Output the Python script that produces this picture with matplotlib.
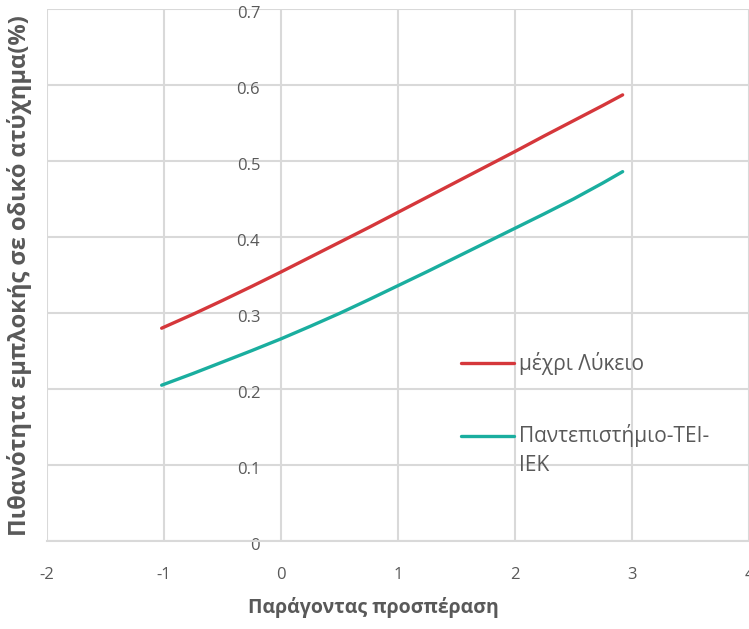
import matplotlib
matplotlib.use("Agg")
import matplotlib.pyplot as plt
import matplotlib.transforms as mtransforms

# values
x_vals = [-1.02, -0.75, -0.5, -0.25, 0.0, 0.25, 0.5, 0.75, 1.0, 1.25, 1.5, 1.75, 2.0, 2.25, 2.5, 2.75, 2.92]
lykeio = [0.280, 0.2985, 0.3165, 0.335, 0.354, 0.3735, 0.393, 0.4125, 0.4325, 0.4525,
          0.4725, 0.4925, 0.5125, 0.533, 0.553, 0.573, 0.587]
panep = [0.205, 0.2205, 0.2355, 0.2505, 0.266, 0.2825, 0.2995, 0.3175, 0.336, 0.3545,
         0.3735, 0.3925, 0.4115, 0.4305, 0.450, 0.471, 0.486]

series_labels = ["μέχρι Λύκειο", "Παντεπιστήμιο-ΤΕΙ-\nΙΕΚ"]
x_ticks = [-2, -1, 0, 1, 2, 3, 4]
y_ticks = [0, 0.1, 0.2, 0.3, 0.4, 0.5, 0.6, 0.7]
y_ticklabels = ["0", "0.1", "0.2", "0.3", "0.4", "0.5", "0.6", "0.7"]

plt.rcParams["font.family"] = ["Open Sans", "DejaVu Sans"]
plt.rcParams["axes.unicode_minus"] = False
grey = "#595959"

fig = plt.figure(figsize=(7.49, 6.29), dpi=100)
ax = fig.add_axes([47 / 749, 1 - 541 / 629, 1 - 47 / 749, (541 - 9) / 629])

ax.plot(x_vals, lykeio, color="#D5373B", lw=2.4, label=series_labels[0], solid_capstyle="round")
ax.plot(x_vals, panep, color="#1AAE9F", lw=2.4, label=series_labels[1], solid_capstyle="round")

ax.set_xlim(-2, 4)
ax.set_ylim(0, 0.7)
ax.set_xticks(x_ticks)
ax.set_yticks(y_ticks)
ax.set_yticklabels(y_ticklabels)
ax.grid(True, color="#D9D9D9", lw=1.5)
ax.set_axisbelow(True)

for s in ["top", "right"]:
    ax.spines[s].set_visible(False)
ax.spines["left"].set_position(("data", 0))
ax.spines["left"].set_visible(False)
ax.spines["bottom"].set_color("#D9D9D9")
ax.spines["bottom"].set_linewidth(1.5)

ax.tick_params(axis="both", length=0, colors=grey, labelsize=12)
ax.tick_params(axis="y", pad=15)
ax.tick_params(axis="x", pad=19)
off = mtransforms.ScaledTranslation(0, -3 / 100, fig.dpi_scale_trans)
for lab in ax.get_yticklabels():
    lab.set_transform(lab.get_transform() + off)

leg = ax.legend(loc="upper left", bbox_to_anchor=(461 / 749, 1 - 352 / 629),
                bbox_transform=fig.transFigure, frameon=False, fontsize=15,
                handlelength=2.55, handletextpad=0.24, labelspacing=1.65,
                borderpad=0, borderaxespad=0)
for t in leg.get_texts():
    t.set_color(grey)
# second label: first line level with its handle, as in the reference
t2 = leg.get_texts()[1]
t2.set_linespacing(1.45)
t2.set_transform(t2.get_transform()
                 + mtransforms.ScaledTranslation(0, -15 / 100, fig.dpi_scale_trans))

fig.text(373 / 749, 1 - 608 / 629, "Παράγοντας προσπέραση", ha="center", va="center",
         fontsize=14, fontweight="bold", color=grey)
fig.text(20 / 749, 1 - 276 / 629, "Πιθανότητα εμπλοκής σε οδικό ατύχημα(%)", ha="center",
         va="center", rotation=90, fontsize=17, fontweight="bold", color=grey)

fig.savefig("out.png", dpi=100)
